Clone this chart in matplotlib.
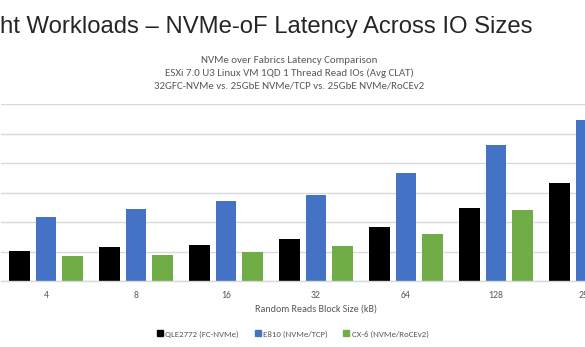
import matplotlib.pyplot as plt
import numpy as np
from matplotlib.lines import Line2D

block_sizes = ['4', '8', '16', '32', '64', '128', '256']
series_names = ['QLE2772 (FC-NVMe)', 'E810 (NVMe/TCP)', 'CX-6 (NVMe/RoCEv2)']
fc_nvme = [20.3, 23.1, 24.4, 28.5, 36.6, 49.5, 66.2]
nvme_tcp = [43.4, 48.8, 54.2, 58.3, 73.2, 92.2, 109.2]
nvme_roce = [17.2, 17.6, 19.7, 23.7, 31.9, 48.1, 68.0]
colors = ['#000000', '#4472C4', '#70AD47']

small_font = ['Carlito', 'Liberation Sans']
grey = '#595959'

fig = plt.figure(figsize=(5.85, 3.47), dpi=100)
# plot area runs past the right edge of the slide crop
ax = fig.add_axes([1 / 585, 66 / 347, 630 / 585, 177 / 347])

x = np.arange(len(block_sizes))
offset = 0.294
width = 0.233
for i, (vals, c) in enumerate(zip([fc_nvme, nvme_tcp, nvme_roce], colors)):
    ax.bar(x + (i - 1) * offset, vals, width, color=c, zorder=2)

ax.set_xlim(-0.5, len(block_sizes) - 0.5)
ax.set_ylim(0, 120)
ax.set_yticks(np.arange(0, 121, 20))
ax.grid(axis='y', color='#D9D9D9', linewidth=1.0, zorder=0)
for s in ['top', 'right', 'left']:
    ax.spines[s].set_visible(False)
ax.spines['bottom'].set_color('#D9D9D9')
ax.spines['bottom'].set_linewidth(1.0)
ax.tick_params(left=False, labelleft=False, bottom=False, pad=4)
ax.set_xticks(x)
ax.set_xticklabels(block_sizes, fontsize=7, color=grey, family=small_font)
ax.set_xlabel('Random Reads Block Size (kB)', fontsize=7.2, color=grey,
              family=small_font, labelpad=3)

fig.text(533 / 585, 314 / 347, 'ht Workloads \u2013 NVMe-oF Latency Across IO Sizes',
         ha='right', va='baseline', fontsize=17.2, color='#262626',
         family='Liberation Sans')
fig.text(289 / 585, (347 - 73) / 347,
         'NVMe over Fabrics Latency Comparison\n'
         'ESXi 7.0 U3 Linux VM 1QD 1 Thread Read IOs (Avg CLAT)\n'
         '32GFC-NVMe vs. 25GbE NVMe/TCP vs. 25GbE NVMe/RoCEv2',
         ha='center', va='center', fontsize=7.8, color=grey, family=small_font,
         linespacing=1.45)

handles = [Line2D([], [], marker='s', linestyle='', color=c, markersize=4.5)
           for c in colors]
fig.legend(handles, series_names, loc='center', ncol=3,
           bbox_to_anchor=(293 / 585, 13 / 347), frameon=False,
           prop={'family': small_font, 'size': 6.4}, labelcolor=grey,
           handlelength=0.6, handletextpad=0.3, columnspacing=1.8)

fig.savefig('out.png', dpi=100)
